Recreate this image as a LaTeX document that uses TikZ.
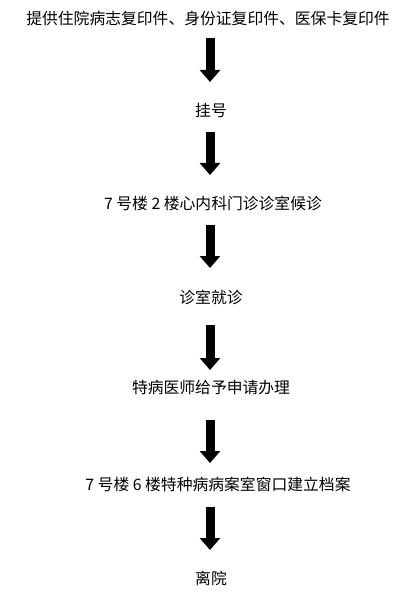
\documentclass[tikz,border=0pt]{standalone}
\usepackage{fontspec}
\newfontfamily\cjk{Noto Sans CJK SC}
\usetikzlibrary{arrows.meta}

\begin{document}
\begin{tikzpicture}[
  x=1pt, y=-1pt,
  font=\cjk\fontsize{15.8}{18}\selectfont,
  stage/.style={inner sep=0pt, anchor=center},
  flow/.style={line width=9pt, -{Triangle[width=20pt, length=12pt]}}
]
\useasboundingbox[fill=white] (0,0) rectangle (413,601);

\node[stage] (copies) at (208,18.5) {提供住院病志复印件、身份证复印件、医保卡复印件};
\node[stage] (register) at (211,110) {挂号};
\node[stage] (wait) at (213,203) {7 号楼 2 楼心内科门诊诊室候诊};
\node[stage] (visit) at (211,297) {诊室就诊};
\node[stage] (apply) at (211,388) {特病医师给予申请办理};
\node[stage] (archive) at (218,484) {7 号楼 6 楼特种病病案室窗口建立档案};
\node[stage] (leave) at (211,578) {离院};

\draw[flow, shorten <=19.5pt, shorten >=28pt] (copies.center -| 210,0) -- (register.center -| 210,0);
\draw[flow, shorten <=22pt, shorten >=28pt] (register.center -| 210,0) -- (wait.center -| 210,0);
\draw[flow, shorten <=22pt, shorten >=29pt] (wait.center -| 210,0) -- (visit.center -| 210,0);
\draw[flow, shorten <=28pt, shorten >=18pt] (visit.center -| 210,0) -- (apply.center -| 210,0);
\draw[flow, shorten <=32pt, shorten >=21pt] (apply.center -| 210,0) -- (archive.center -| 210,0);
\draw[flow, shorten <=23pt, shorten >=28pt] (archive.center -| 210,0) -- (leave.center -| 210,0);

\end{tikzpicture}
\end{document}
